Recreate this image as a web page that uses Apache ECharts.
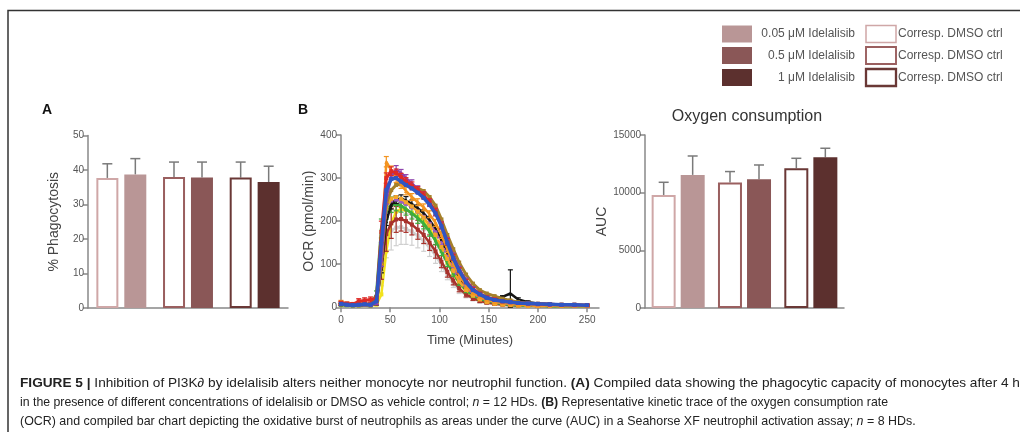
<!DOCTYPE html>
<html><head><meta charset="utf-8">
<script src="https://cdn.jsdelivr.net/npm/echarts/dist/echarts.min.js"></script>
<style>html,body{margin:0;padding:0;background:#fff}#c{width:1020px;height:432px}</style>
</head><body><div id="c"></div>
<script>
// ---------- DATA ----------
const pairLabels = ['0.05 μM', '0.5 μM', '1 μM'];
const legendDrug = ['0.05 μM Idelalisib', '0.5 μM Idelalisib', '1 μM Idelalisib'];
const legendCtrl = ['Corresp. DMSO ctrl', 'Corresp. DMSO ctrl', 'Corresp. DMSO ctrl'];

// Panel A: % phagocytosis (mean, upper SD)
const phagoCtrl = [37.7, 38.0, 37.8];
const phagoCtrlErr = [4.1, 4.3, 4.5];
const phagoDrug = [38.7, 37.8, 36.5];
const phagoDrugErr = [4.6, 4.5, 4.6];

// Panel C: AUC
const aucCtrl = [9800, 10880, 12120];
const aucCtrlErr = [1100, 950, 860];
const aucDrug = [11540, 11160, 13070];
const aucDrugErr = [1640, 1240, 780];

// Panel B: OCR kinetic traces
const times = [0, 6, 12, 18, 24, 30, 36, 41, 46, 51, 56, 61, 66, 72, 78, 84, 90, 96, 102, 108, 114, 120, 127, 134, 141, 148, 156, 164, 172, 180, 190, 200, 212, 224, 237, 250];
const ocrGray    = [6,5,5,5,5,5,8,80,160,178,185,186,182,176,166,154,138,120,98,76,56,40,28,20,14,10,8,6,5,4,4,3,3,3,3,3];
const ocrYellow  = [5,5,4,4,5,4,6,30,130,195,222,228,226,220,210,198,182,160,132,104,78,56,38,26,18,13,10,8,6,5,4,4,3,3,3,3];
const ocrDarkRed = [9,8,7,8,8,7,10,95,170,195,204,205,200,192,180,168,150,130,106,82,62,44,30,21,15,11,8,6,5,4,4,3,3,3,3,3];
const ocrGreen   = [6,5,5,6,6,5,30,183,225,238,240,236,228,218,207,194,176,155,130,104,80,58,40,28,20,15,11,8,6,5,4,4,3,3,3,3];
const ocrBlack   = [7,6,5,5,6,5,9,90,200,238,250,252,248,240,230,218,202,182,156,126,96,70,48,35,27,22,20,24,32,18,12,9,7,6,5,5];
const ocrPurple2 = [7,6,5,6,6,5,10,130,235,248,250,246,240,232,222,210,194,174,148,118,90,65,45,32,23,17,13,10,8,7,6,5,5,4,4,4];
const ocrOrange2 = [8,6,6,6,6,6,10,120,230,252,256,252,244,234,222,208,190,168,140,112,85,60,40,27,18,12,8,6,5,4,3,3,3,3,3,3];
const ocrBrown   = [7,6,6,6,7,6,9,100,240,272,284,286,284,281,277,270,256,236,204,168,135,104,76,55,40,32,26,20,16,12,10,8,7,6,6,5];
const ocrOrange  = [12,9,8,8,9,8,12,120,338,318,300,285,270,256,244,232,216,196,168,135,102,74,50,34,24,18,13,10,8,6,5,4,4,3,3,3];
const ocrPurple  = [8,7,6,6,7,6,10,110,250,305,320,312,300,288,274,260,242,220,190,155,120,90,63,44,32,24,18,14,12,10,8,7,6,6,5,5];
const ocrRed     = [10,8,7,14,16,18,20,175,300,316,312,302,292,282,272,260,244,222,190,152,116,86,60,42,31,23,18,14,12,10,9,8,7,6,6,5];
const ocrBlue    = [8,6,5,6,7,6,14,150,272,298,300,292,284,276,266,254,238,218,188,150,114,85,58,40,30,22,17,14,12,10,9,8,7,6,6,5];

const errGray    = [3,3,3,3,3,3,4,30,45,45,42,40,36,32,28,24,20,18,15,12,10,8,6,5,4,3,3,2,2,2,2,2,2,2,2,2];
const errDarkRed = [4,3,3,4,4,3,5,30,40,35,30,28,26,24,22,20,18,16,14,12,10,8,6,5,4,3,3,2,2,2,2,2,2,2,2,2];
const errGreen   = [3,3,3,3,3,3,8,22,20,18,16,15,14,13,12,12,11,10,10,9,8,7,6,5,4,3,3,2,2,2,2,2,2,2,2,2];
const errBlack   = [2,2,2,2,2,2,3,10,10,10,9,9,9,9,8,8,8,7,7,6,6,5,4,4,3,3,3,3,55,4,3,2,2,2,2,2];
const errOrange  = [4,3,3,3,3,3,5,20,12,10,10,9,9,8,8,8,8,8,8,8,7,6,5,4,4,3,3,3,3,3,3,2,2,2,2,2];
const errPurple  = [3,3,3,3,3,3,4,15,10,9,9,8,8,8,8,8,8,8,8,7,6,5,5,4,3,3,3,2,2,2,2,2,2,2,2,2];
const errRed     = [4,4,4,6,6,6,6,25,12,10,9,9,9,9,8,8,8,8,8,8,7,6,5,4,4,3,3,3,3,3,2,2,2,2,2,2];

// ---------- STYLE ----------
const drugColors = ['#b99696', '#8a5757', '#5c302e'];
const ctrlColors = ['#cfa7a7', '#9a5f5f', '#6a3836'];
const FONT = 'Liberation Sans, Arial, sans-serif';
const axisGray = '#888';
const errGrayC = '#7a7a7a';

const traces = [
  {d: ocrGray, e: errGray, c: '#cfcfcf', w: 2.5, sym: 'rect'},
  {d: ocrYellow, e: null, c: '#f2e21c', w: 2.5, sym: 'rect'},
  {d: ocrDarkRed, e: errDarkRed, c: '#a8322c', w: 2.5, sym: 'rect'},
  {d: ocrGreen, e: errGreen, c: '#3dae3d', w: 3, sym: 'triangle'},
  {d: ocrBlack, e: errBlack, c: '#151515', w: 2.5, sym: 'triangle'},
  {d: ocrPurple2, e: null, c: '#9d5cc0', w: 2.5, sym: 'rect', dash: true},
  {d: ocrOrange2, e: null, c: '#f4a52a', w: 2.5, sym: 'rect', dash: true},
  {d: ocrBrown, e: null, c: '#a5802a', w: 3, sym: 'rect'},
  {d: ocrOrange, e: errOrange, c: '#f39420', w: 2.5, sym: 'triangle'},
  {d: ocrPurple, e: errPurple, c: '#8e44ad', w: 2.5, sym: 'triangle'},
  {d: ocrRed, e: errRed, c: '#de2a26', w: 3, sym: 'rect'},
  {d: ocrBlue, e: null, c: '#2f56c4', w: 3.5, sym: 'rect'}
];

function barErr(offset, capHalf) {
  return function (params, api) {
    const v = api.value(1), e = api.value(2);
    const base = api.coord([api.value(0), v]);
    const top = api.coord([api.value(0), v + e]);
    const x = base[0] + offset;
    return {type: 'group', children: [
      {type: 'line', shape: {x1: x, y1: base[1], x2: x, y2: top[1]}, style: {stroke: errGrayC, lineWidth: 1.5}},
      {type: 'line', shape: {x1: x - capHalf, y1: top[1], x2: x + capHalf, y2: top[1]}, style: {stroke: errGrayC, lineWidth: 1.5}}
    ]};
  };
}
function traceErr(color) {
  return function (params, api) {
    const x = api.value(0), v = api.value(1), e = api.value(2);
    const lo = api.coord([x, Math.max(0, v - e)]);
    const hi = api.coord([x, v + e]);
    return {type: 'group', children: [
      {type: 'line', shape: {x1: lo[0], y1: lo[1], x2: hi[0], y2: hi[1]}, style: {stroke: color, lineWidth: 1.2}},
      {type: 'line', shape: {x1: hi[0] - 2.5, y1: hi[1], x2: hi[0] + 2.5, y2: hi[1]}, style: {stroke: color, lineWidth: 1.2}},
      {type: 'line', shape: {x1: lo[0] - 2.5, y1: lo[1], x2: lo[0] + 2.5, y2: lo[1]}, style: {stroke: color, lineWidth: 1.2}}
    ]};
  };
}

const yAxisBase = {
  type: 'value', splitLine: {show: false},
  axisLine: {show: true, lineStyle: {color: axisGray, width: 1.5}},
  axisTick: {show: true, length: 5, lineStyle: {color: axisGray, width: 1.5}},
  axisLabel: {color: '#555', fontSize: 10, fontFamily: FONT, margin: 4, formatter: (v) => String(v)},
  nameLocation: 'middle', nameTextStyle: {color: '#444', fontSize: 14, fontFamily: FONT}
};
const catAxis = (gi) => ({
  type: 'category', gridIndex: gi, data: pairLabels,
  axisLine: {show: true, lineStyle: {color: axisGray, width: 1.5}},
  axisTick: {show: false}, axisLabel: {show: false}
});

const series = [];
// Panel A bars
series.push({type: 'bar', xAxisIndex: 0, yAxisIndex: 0, barWidth: 22, barGap: '27%',
  data: phagoCtrl.map((v, i) => ({value: v, itemStyle: {color: '#fff', borderColor: ctrlColors[i], borderWidth: 2}}))});
series.push({type: 'bar', xAxisIndex: 0, yAxisIndex: 0, barWidth: 22,
  data: phagoDrug.map((v, i) => ({value: v, itemStyle: {color: drugColors[i]}}))});
series.push({type: 'custom', xAxisIndex: 0, yAxisIndex: 0, renderItem: barErr(-14, 5), z: 1,
  data: phagoCtrl.map((v, i) => [i, v, phagoCtrlErr[i]])});
series.push({type: 'custom', xAxisIndex: 0, yAxisIndex: 0, renderItem: barErr(14, 5), z: 1,
  data: phagoDrug.map((v, i) => [i, v, phagoDrugErr[i]])});
// Panel C bars
series.push({type: 'bar', xAxisIndex: 2, yAxisIndex: 2, barWidth: 24, barGap: '21%',
  data: aucCtrl.map((v, i) => ({value: v, itemStyle: {color: '#fff', borderColor: ctrlColors[i], borderWidth: 2}}))});
series.push({type: 'bar', xAxisIndex: 2, yAxisIndex: 2, barWidth: 24,
  data: aucDrug.map((v, i) => ({value: v, itemStyle: {color: drugColors[i]}}))});
series.push({type: 'custom', xAxisIndex: 2, yAxisIndex: 2, renderItem: barErr(-14.5, 5), z: 1,
  data: aucCtrl.map((v, i) => [i, v, aucCtrlErr[i]])});
series.push({type: 'custom', xAxisIndex: 2, yAxisIndex: 2, renderItem: barErr(14.5, 5), z: 1,
  data: aucDrug.map((v, i) => [i, v, aucDrugErr[i]])});
// Panel B traces
traces.forEach((t, k) => {
  if (t.e) {
    series.push({type: 'custom', xAxisIndex: 1, yAxisIndex: 1, z: 2 + k * 2, renderItem: traceErr(t.c),
      data: times.map((x, i) => [x, t.d[i], t.e[i]])});
  }
  series.push({type: 'line', xAxisIndex: 1, yAxisIndex: 1, z: 3 + k * 2, data: times.map((x, i) => [x, t.d[i]]),
    symbol: t.sym, symbolSize: 4, showSymbol: true, itemStyle: {color: t.c},
    lineStyle: {color: t.c, width: t.w, type: t.dash ? [5, 3] : 'solid'}, animation: false});
});

// ---------- GRAPHICS (border, legend, letters, caption) ----------
const graphic = [];
graphic.push({type: 'polyline', shape: {points: [[8, 432], [8, 10.5], [1020, 10.5]]}, style: {stroke: '#333', lineWidth: 1.5, fill: null}});
const legRows = [34, 55.5, 77.5];
legendDrug.forEach((lab, i) => {
  graphic.push({type: 'rect', shape: {x: 722, y: legRows[i] - 8.5, width: 30, height: 17}, style: {fill: drugColors[i]}});
  graphic.push({type: 'text', x: 855, y: legRows[i], style: {text: lab, fill: '#555', font: '12px ' + FONT, textAlign: 'right', textVerticalAlign: 'middle'}});
});
legendCtrl.forEach((lab, i) => {
  graphic.push({type: 'rect', shape: {x: 866, y: legRows[i] - 8.5, width: 30, height: 17}, style: {fill: '#fff', stroke: ctrlColors[i], lineWidth: 1.5 + i * 0.4}});
  graphic.push({type: 'text', x: 898, y: legRows[i], style: {text: lab, fill: '#555', font: '12px ' + FONT, textAlign: 'left', textVerticalAlign: 'middle'}});
});
graphic.push({type: 'text', x: 42, y: 110, style: {text: 'A', fill: '#111', font: 'bold 14px ' + FONT, textVerticalAlign: 'middle'}});
graphic.push({type: 'text', x: 298, y: 110, style: {text: 'B', fill: '#111', font: 'bold 14px ' + FONT, textVerticalAlign: 'middle'}});

const capRich = {
  b: {fontFamily: FONT, fontWeight: 'bold', fontSize: 13, color: '#111'},
  n: {fontFamily: FONT, fontSize: 13, color: '#222'},
  i: {fontFamily: FONT, fontSize: 13, fontStyle: 'italic', color: '#222'}
};
const captionLines = [
  '{b|FIGURE 5 | }{n|Inhibition of PI3K}{i|∂}{n| by idelalisib alters neither monocyte nor neutrophil function. }{b|(A)}{n| Compiled data showing the phagocytic capacity of monocytes after 4 h}',
  '{n|in the presence of different concentrations of idelalisib or DMSO as vehicle control; }{i|n}{n| = 12 HDs. }{b|(B)}{n| Representative kinetic trace of the oxygen consumption rate}',
  '{n|(OCR) and compiled bar chart depicting the oxidative burst of neutrophils as areas under the curve (AUC) in a Seahorse XF neutrophil activation assay; }{i|n}{n| = 8 HDs.}'
];
const capY = [383, 402, 421];
const capScale = [1.05, 0.945, 0.956];
captionLines.forEach((txt, i) => {
  graphic.push({type: 'text', x: 20, y: capY[i], scaleX: capScale[i], style: {text: txt, rich: capRich, textVerticalAlign: 'middle', fill: '#222'}});
});

const option = {
  animation: false,
  backgroundColor: '#fff',
  title: {text: 'Oxygen consumption', left: 742, top: 104, textAlign: 'center',
    textStyle: {color: '#333', fontSize: 16, fontWeight: 'normal', fontFamily: FONT}},
  grid: [
    {left: 88, top: 135.5, width: 200, height: 172.5, containLabel: false, outerBoundsMode: 'none'},
    {left: 341, top: 135, width: 258, height: 172.3, containLabel: false, outerBoundsMode: 'none'},
    {left: 645, top: 135, width: 199, height: 173, containLabel: false, outerBoundsMode: 'none'}
  ],
  xAxis: [
    catAxis(0),
    {type: 'value', gridIndex: 1, min: 0, max: 262, interval: 50, splitLine: {show: false},
      axisLine: {show: true, lineStyle: {color: axisGray, width: 1.5}},
      axisTick: {show: true, length: 5, lineStyle: {color: axisGray, width: 1.5}},
      axisLabel: {color: '#555', fontSize: 10, fontFamily: FONT, margin: 8, showMaxLabel: false},
      name: 'Time (Minutes)', nameLocation: 'middle', nameGap: 27,
      nameTextStyle: {color: '#444', fontSize: 13, fontFamily: FONT}},
    catAxis(2)
  ],
  yAxis: [
    Object.assign({}, yAxisBase, {gridIndex: 0, min: 0, max: 50, interval: 10, name: '% Phagocytosis', nameGap: 27}),
    Object.assign({}, yAxisBase, {gridIndex: 1, min: 0, max: 400, interval: 100, name: 'OCR (pmol/min)', nameGap: 23}),
    Object.assign({}, yAxisBase, {gridIndex: 2, min: 0, max: 15000, interval: 5000, name: 'AUC', nameGap: 31})
  ],
  series: series,
  graphic: graphic
};
const chart = echarts.init(document.getElementById('c'), null, {renderer: 'canvas'});
chart.setOption(option);
</script></body></html>
